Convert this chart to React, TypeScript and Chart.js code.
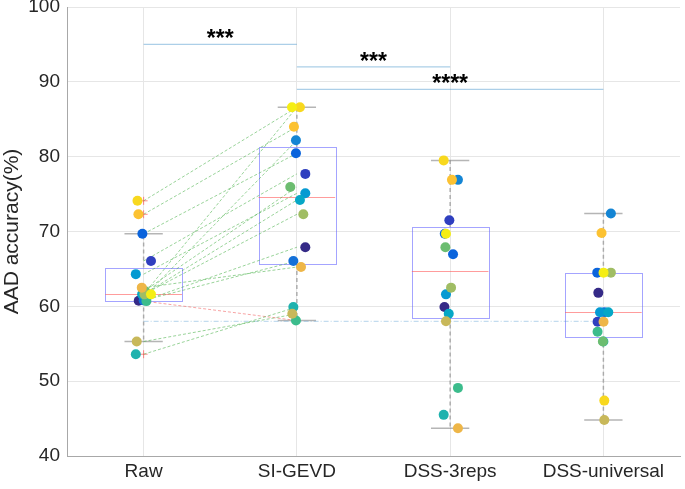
import React, { useEffect, useRef } from 'react';
import { Chart, registerables } from 'chart.js';

Chart.register(...registerables);

const groups = ['Raw', 'SI-GEVD', 'DSS-3reps', 'DSS-universal'];
const yTicks = [40, 50, 60, 70, 80, 90, 100];

// one value per subject (16 subjects)
const raw = [60.75, 66.06, 69.7, 60.8, 61.2, 64.3, 61.6, 53.6, 60.7, 62.0, 61.6, 55.3, 62.5, 72.3, 74.1, 61.6];
const siGevd = [67.9, 77.7, 80.45, 66.06, 82.2, 75.1, 74.2, 59.9, 58.1, 75.95, 72.3, 59.0, 65.25, 84.0, 86.6, 86.6];
const dss3reps = [59.9, 71.5, 66.95, 69.7, 76.9, 61.6, 59.0, 45.5, 49.1, 67.9, 62.5, 58.0, 43.7, 76.9, 79.5, 69.7];
const dssUniversal = [61.8, 57.95, 64.5, 59.2, 72.4, 59.2, 59.2, 55.3, 56.6, 55.3, 64.5, 44.8, 57.95, 69.8, 47.4, 64.5];

// horizontal jitter of each subject's dot (category units)
const jitterRaw = [-0.032, 0.048, -0.008, 0.0, 0.02, -0.051, -0.01, -0.051, 0.018, 0.01, 0.005, -0.045, -0.012, -0.034, -0.04, 0.048];
const jitterSi = [0.055, 0.055, -0.006, -0.023, -0.006, 0.055, 0.02, -0.023, -0.006, -0.043, 0.042, -0.03, 0.027, -0.019, 0.02, -0.032];
const jitterD3 = [-0.037, -0.005, 0.019, -0.035, 0.051, -0.027, -0.009, -0.042, 0.051, -0.031, 0.006, -0.027, 0.051, 0.012, -0.042, -0.027];
const jitterDu = [-0.033, -0.038, -0.04, 0.006, 0.049, -0.022, 0.032, 0.0, -0.038, -0.003, 0.049, 0.006, 0.001, -0.012, 0.006, 0.001];

const subjectColors = [
  '#352a87', '#2f3fbf', '#0a64dc', '#1470d8', '#1485d4', '#059ad2', '#06a7c6', '#1fb2ae',
  '#3cbc8c', '#6cbd70', '#a0bd64', '#c8b85a', '#eeb648', '#fcc232', '#f8d81e', '#f5ee14',
];

// significance bars
const sigFrom = [1, 2, 2];
const sigTo = [2, 3, 4];
const sigLevel = [95, 92, 89];
const sigLabels = ['***', '***', '****'];
const refLevel = 58;

const FONT = "'Liberation Sans', Arial, Helvetica, sans-serif";

function prctile(sorted: number[], p: number) {
  const n = sorted.length;
  let pos = (n * p) / 100 + 0.5;
  if (pos < 1) pos = 1;
  if (pos > n) pos = n;
  const lo = Math.floor(pos);
  const hi = Math.ceil(pos);
  const f = pos - lo;
  return sorted[lo - 1] + f * (sorted[hi - 1] - sorted[lo - 1]);
}

function boxStats(vals: number[]) {
  const s = [...vals].sort((a, b) => a - b);
  const q1 = prctile(s, 25);
  const med = prctile(s, 50);
  const q3 = prctile(s, 75);
  const iqr = q3 - q1;
  const hiF = q3 + 1.5 * iqr;
  const loF = q1 - 1.5 * iqr;
  const inside = s.filter((v) => v >= loF && v <= hiF);
  const outliers = s.filter((v) => v < loF || v > hiF);
  return { q1, med, q3, wLo: inside[0], wHi: inside[inside.length - 1], outliers };
}

const groupValues = [raw, siGevd, dss3reps, dssUniversal];
const groupJitter = [jitterRaw, jitterSi, jitterD3, jitterDu];

const boxPlugin = {
  id: 'boxes',
  beforeDatasetsDraw(chart: any) {
    const { ctx } = chart;
    const xs = chart.scales.x;
    const ys = chart.scales.y;
    ctx.save();
    groupValues.forEach((vals, g) => {
      const st = boxStats(vals);
      const cx = xs.getPixelForValue(g + 1);
      const xl = xs.getPixelForValue(g + 1 - 0.25);
      const xr = xs.getPixelForValue(g + 1 + 0.25);
      const cl = xs.getPixelForValue(g + 1 - 0.125);
      const cr = xs.getPixelForValue(g + 1 + 0.125);
      const yq1 = ys.getPixelForValue(st.q1);
      const yq3 = ys.getPixelForValue(st.q3);
      const ymed = ys.getPixelForValue(st.med);
      const yhi = ys.getPixelForValue(st.wHi);
      const ylo = ys.getPixelForValue(st.wLo);
      // whiskers
      ctx.strokeStyle = 'rgba(120,120,120,0.55)';
      ctx.lineWidth = 1.5;
      ctx.setLineDash([4, 3]);
      ctx.beginPath();
      ctx.moveTo(cx, yq3);
      ctx.lineTo(cx, yhi);
      ctx.moveTo(cx, yq1);
      ctx.lineTo(cx, ylo);
      ctx.stroke();
      ctx.setLineDash([]);
      ctx.beginPath();
      ctx.moveTo(cl, yhi);
      ctx.lineTo(cr, yhi);
      ctx.moveTo(cl, ylo);
      ctx.lineTo(cr, ylo);
      ctx.stroke();
      // box
      ctx.strokeStyle = 'rgba(90,90,255,0.55)';
      ctx.lineWidth = 1;
      ctx.strokeRect(Math.round(xl) + 0.5, Math.round(yq3) + 0.5, Math.round(xr - xl), Math.round(yq1 - yq3));
      // median
      ctx.strokeStyle = 'rgba(255,90,90,0.6)';
      ctx.beginPath();
      ctx.moveTo(xl, Math.round(ymed) + 0.5);
      ctx.lineTo(xr, Math.round(ymed) + 0.5);
      ctx.stroke();
      // outliers
      ctx.strokeStyle = 'rgba(255,60,60,0.6)';
      st.outliers.forEach((v) => {
        const oy = ys.getPixelForValue(v);
        ctx.beginPath();
        ctx.moveTo(cx - 4, oy);
        ctx.lineTo(cx + 4, oy);
        ctx.moveTo(cx, oy - 4);
        ctx.lineTo(cx, oy + 4);
        ctx.stroke();
      });
    });
    ctx.restore();
  },
  afterDatasetsDraw(chart: any) {
    const { ctx } = chart;
    const xs = chart.scales.x;
    const ys = chart.scales.y;
    ctx.save();
    ctx.fillStyle = '#000';
    ctx.font = `bold 23px ${FONT}`;
    ctx.textAlign = 'center';
    ctx.textBaseline = 'alphabetic';
    sigLabels.forEach((lab, k) => {
      const mx = xs.getPixelForValue((sigFrom[k] + sigTo[k]) / 2);
      const ly = ys.getPixelForValue(sigLevel[k]);
      const m = ctx.measureText(lab);
      const center = ly - 10.5;
      const yb = center + (m.actualBoundingBoxAscent - m.actualBoundingBoxDescent) / 2;
      ctx.fillText(lab, mx, yb);
    });
    ctx.restore();
  },
};

export default function App() {
  const ref = useRef<HTMLCanvasElement | null>(null);

  useEffect(() => {
    if (!ref.current) return;

    const pairLines = raw.map((r, i) => ({
      type: 'line' as const,
      data: [
        { x: 1, y: r },
        { x: 2, y: siGevd[i] },
      ],
      borderColor: siGevd[i] >= r ? 'rgba(70,175,70,0.55)' : 'rgba(240,90,90,0.55)',
      borderWidth: 1,
      borderDash: [3, 2],
      pointRadius: 0,
      order: 2,
    }));

    const refLine = {
      type: 'line' as const,
      data: [
        { x: 1, y: refLevel },
        { x: 4, y: refLevel },
      ],
      borderColor: 'rgba(90,160,210,0.45)',
      borderWidth: 1,
      borderDash: [5, 2, 1, 2],
      pointRadius: 0,
      order: 3,
    };

    const sigLines = sigLabels.map((_, k) => ({
      type: 'line' as const,
      data: [
        { x: sigFrom[k], y: sigLevel[k] },
        { x: sigTo[k], y: sigLevel[k] },
      ],
      borderColor: 'rgba(90,160,210,0.5)',
      borderWidth: 1.2,
      pointRadius: 0,
      order: 3,
    }));

    const dots = groupValues.map((vals, g) => ({
      type: 'scatter' as const,
      data: vals.map((v, i) => ({ x: g + 1 + groupJitter[g][i], y: v })),
      pointBackgroundColor: subjectColors,
      pointBorderColor: subjectColors,
      pointBorderWidth: 0,
      pointRadius: 5,
      order: 0,
    }));

    const chart = new Chart(ref.current, {
      type: 'scatter',
      data: { datasets: [...dots, ...pairLines, refLine, ...sigLines] as any },
      plugins: [boxPlugin],
      options: {
        animation: false,
        responsive: false,
        maintainAspectRatio: false,
        layout: { padding: { top: 7, right: 3, left: 0, bottom: 0 } },
        plugins: { legend: { display: false }, tooltip: { enabled: false } },
        scales: {
          x: {
            type: 'linear',
            min: 0.5,
            max: 4.5,
            afterBuildTicks: (s: any) => {
              s.ticks = groups.map((_, i) => ({ value: i + 1 }));
            },
            afterFit: (s: any) => {
              s.height = 33;
              s.paddingLeft = 0;
              s.paddingRight = 0;
            },
            ticks: {
              callback: (v: any) => groups[Math.round(Number(v)) - 1] ?? '',
              font: { family: FONT, size: 19 },
              color: '#262626',
              padding: 4,
              maxRotation: 0,
              autoSkip: false,
            },
            grid: { color: '#e6e6e6', drawTicks: false },
            border: { color: '#a8a8a8' },
          },
          y: {
            type: 'linear',
            min: 40,
            max: 100,
            afterBuildTicks: (s: any) => {
              s.ticks = yTicks.map((v) => ({ value: v }));
            },
            afterFit: (s: any) => {
              s.width = 67;
              s.paddingTop = 0;
              s.paddingBottom = 0;
            },
            ticks: {
              font: { family: FONT, size: 19 },
              color: '#262626',
              padding: 7,
            },
            grid: { color: '#e6e6e6', drawTicks: false },
            border: { color: '#a8a8a8' },
            title: {
              display: true,
              text: 'AAD accuracy(%)',
              font: { family: FONT, size: 21 },
              color: '#262626',
              padding: 0,
            },
          },
        },
      } as any,
    });

    return () => chart.destroy();
  }, []);

  return (
    <div style={{ position: 'fixed', left: 0, top: 0, width: 685, height: 489, background: '#fff' }}>
      <canvas ref={ref} width={685} height={489} style={{ display: 'block' }} />
    </div>
  );
}
